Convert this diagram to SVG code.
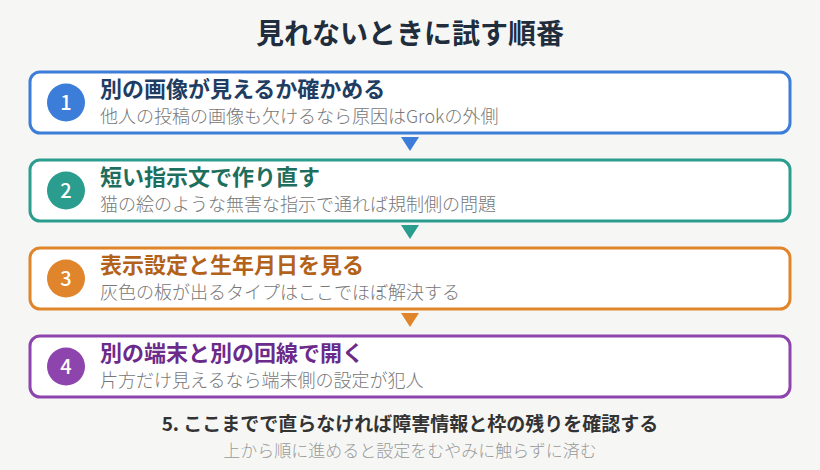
<svg xmlns="http://www.w3.org/2000/svg" width="820" height="470" viewBox="0 0 820 470">
<style>
text{font-family:"Noto Sans CJK JP","Noto Sans",sans-serif}
.title{font-size:28px;font-weight:700;fill:#1f2d3d}
.box{fill:#ffffff;stroke-width:3}
.head{font-size:22px;font-weight:700}
.sub{font-size:18px;font-weight:300;fill:#777777}
.num{font-size:20px;font-weight:500;fill:#ffffff}
.foot1{font-size:19px;font-weight:700;fill:#333333}
.foot2{font-size:17px;font-weight:300;fill:#9a9a9a}
</style>
<rect width="820" height="470" fill="#f6f7f5"/>
<text class="title" x="410" y="44" text-anchor="middle">見れないときに試す順番</text>
<g id="connectors">
<polygon points="401,137 419,137 410,151" fill="#3b7dd8"/>
<polygon points="401,225 419,225 410,239" fill="#2a9d8f"/>
<polygon points="401,313 419,313 410,327" fill="#e0852b"/>
</g>
<g id="step1">
<rect class="box" x="30" y="72" width="760" height="61" rx="10" stroke="#3b7dd8"/>
<circle cx="66" cy="102.5" r="19" fill="#3b7dd8"/>
<text class="num" x="66" y="109.5" text-anchor="middle">1</text>
<text class="head" x="100" y="97" fill="#1f3d63">別の画像が見えるか確かめる</text>
<text class="sub" x="100" y="123">他人の投稿の画像も欠けるなら原因はGrokの外側</text>
</g>
<g id="step2">
<rect class="box" x="30" y="160" width="760" height="61" rx="10" stroke="#2a9d8f"/>
<circle cx="66" cy="190.5" r="19" fill="#2a9d8f"/>
<text class="num" x="66" y="197.5" text-anchor="middle">2</text>
<text class="head" x="100" y="185" fill="#1e6e5e">短い指示文で作り直す</text>
<text class="sub" x="100" y="211">猫の絵のような無害な指示で通れば規制側の問題</text>
</g>
<g id="step3">
<rect class="box" x="30" y="248" width="760" height="61" rx="10" stroke="#e0852b"/>
<circle cx="66" cy="278.5" r="19" fill="#e0852b"/>
<text class="num" x="66" y="285.5" text-anchor="middle">3</text>
<text class="head" x="100" y="273" fill="#b3621a">表示設定と生年月日を見る</text>
<text class="sub" x="100" y="299">灰色の板が出るタイプはここでほぼ解決する</text>
</g>
<g id="step4">
<rect class="box" x="30" y="336" width="760" height="61" rx="10" stroke="#8e44ad"/>
<circle cx="66" cy="366.5" r="19" fill="#8e44ad"/>
<text class="num" x="66" y="373.5" text-anchor="middle">4</text>
<text class="head" x="100" y="361" fill="#6c2a8a">別の端末と別の回線で開く</text>
<text class="sub" x="100" y="387">片方だけ見えるなら端末側の設定が犯人</text>
</g>
<g id="step5">
<text class="foot1" x="410" y="431" text-anchor="middle">5. ここまでで直らなければ障害情報と枠の残りを確認する</text>
<text class="foot2" x="410" y="457" text-anchor="middle">上から順に進めると設定をむやみに触らずに済む</text>
</g>
</svg>
